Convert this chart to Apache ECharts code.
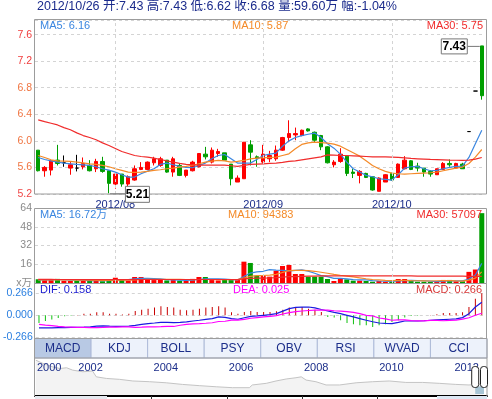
<!DOCTYPE html>
<html>
<head>
<meta charset="utf-8">
<title>K线图</title>
<script src="https://cdn.jsdelivr.net/npm/echarts@6/dist/echarts.min.js"></script>
<style>
html, body { margin: 0; padding: 0; background: #fff; }
#container { width: 492px; height: 399px; }
</style>
</head>
<body>
<div id="container"></div>
<script>
// 日期 (2012/07/16 - 2012/10/26)
var dates = [
 '2012/07/16','2012/07/17','2012/07/18','2012/07/19','2012/07/20','2012/07/23','2012/07/24','2012/07/25','2012/07/26','2012/07/27',
 '2012/07/30','2012/07/31','2012/08/01','2012/08/02','2012/08/03','2012/08/06','2012/08/07','2012/08/08','2012/08/09','2012/08/10',
 '2012/08/13','2012/08/14','2012/08/15','2012/08/16','2012/08/17','2012/08/20','2012/08/21','2012/08/22','2012/08/23','2012/08/24',
 '2012/08/27','2012/08/28','2012/08/29','2012/08/30','2012/08/31','2012/09/03','2012/09/04','2012/09/05','2012/09/06','2012/09/07',
 '2012/09/10','2012/09/11','2012/09/12','2012/09/13','2012/09/14','2012/09/17','2012/09/18','2012/09/19','2012/09/20','2012/09/21',
 '2012/09/24','2012/09/25','2012/09/26','2012/09/27','2012/09/28','2012/10/08','2012/10/09','2012/10/10','2012/10/11','2012/10/12',
 '2012/10/15','2012/10/16','2012/10/17','2012/10/18','2012/10/19','2012/10/22','2012/10/23','2012/10/24','2012/10/25','2012/10/26'
];

var opens = [
 5.86,5.55,5.56,5.71,5.67,5.59,5.59,5.61,5.63,5.58,
 5.69,5.55,5.35,5.50,5.35,5.41,5.57,5.57,5.67,5.63,
 5.71,5.53,5.63,5.48,5.55,5.61,5.80,5.68,5.81,5.82,
 5.65,5.38,5.43,5.94,5.76,5.68,5.73,5.73,5.86,6.05,
 6.09,6.08,6.18,6.13,6.08,5.91,5.64,5.69,5.77,5.53,
 5.48,5.51,5.46,5.24,5.38,5.51,5.45,5.58,5.70,5.62,
 5.59,5.54,5.49,5.57,5.66,5.59,5.65,6.14,6.75,7.43
];
var closes = [
 5.55,5.60,5.70,5.66,5.67,5.64,5.59,5.66,5.55,5.69,
 5.54,5.36,5.50,5.35,5.46,5.58,5.60,5.68,5.73,5.73,
 5.53,5.73,5.48,5.56,5.68,5.81,5.76,5.86,5.84,5.71,
 5.43,5.44,5.98,5.83,5.74,5.80,5.78,5.86,6.05,6.11,
 6.11,6.16,6.15,6.01,5.91,5.67,5.68,5.80,5.51,5.51,
 5.54,5.45,5.26,5.44,5.49,5.41,5.65,5.71,5.57,5.59,
 5.53,5.50,5.58,5.66,5.64,5.66,5.58,6.14,6.75,6.68
];
var lows = [
 5.54,5.46,5.48,5.63,5.61,5.49,5.54,5.57,5.54,5.53,
 5.52,5.21,5.28,5.31,5.31,5.40,5.56,5.56,5.63,5.61,
 5.52,5.46,5.47,5.45,5.54,5.60,5.72,5.66,5.76,5.71,
 5.33,5.38,5.43,5.63,5.61,5.66,5.68,5.70,5.85,5.98,
 6.01,6.07,6.14,5.98,5.86,5.66,5.60,5.67,5.47,5.44,
 5.36,5.44,5.25,5.24,5.38,5.40,5.45,5.57,5.56,5.54,
 5.46,5.46,5.49,5.56,5.61,5.58,5.58,6.14,6.75,6.62
];
var highs = [
 5.86,5.62,5.71,5.94,5.78,5.68,5.79,5.75,5.71,5.73,
 5.76,5.55,5.50,5.50,5.48,5.63,5.68,5.69,5.76,5.76,
 5.71,5.76,5.66,5.56,5.70,5.81,5.91,5.90,5.88,5.82,
 5.65,5.48,5.98,6.01,5.78,5.94,5.85,5.93,6.06,6.31,
 6.20,6.17,6.19,6.14,6.09,5.92,5.71,5.89,5.78,5.58,
 5.56,5.52,5.47,5.45,5.50,5.52,5.66,5.77,5.71,5.67,
 5.59,5.56,5.58,5.68,5.72,5.67,5.67,6.14,6.75,7.43
];

var ma5 = [
 5.75,5.72,5.70,5.68,5.665,5.655,5.645,5.64,5.63,5.61,
 5.58,5.56,5.53,5.49,5.455,5.455,5.505,5.545,5.58,5.645,
 5.665,5.64,5.615,5.60,5.595,5.63,5.665,5.73,5.78,5.795,
 5.73,5.665,5.665,5.665,5.72,5.78,5.80,5.815,5.92,6.0,
 6.05,6.08,6.10,6.117,6.05,5.956,5.89,5.80,5.68,5.58,
 5.53,5.48,5.46,5.43,5.42,5.41,5.49,5.59,5.61,5.615,
 5.58,5.55,5.555,5.58,5.60,5.615,5.62,5.75,5.956,6.16
];
var ma10 = [
 5.78,5.75,5.715,5.70,5.695,5.69,5.68,5.67,5.655,5.645,
 5.63,5.61,5.58,5.555,5.53,5.525,5.53,5.54,5.555,5.565,
 5.58,5.59,5.605,5.615,5.63,5.655,5.68,5.695,5.705,5.70,
 5.68,5.69,5.705,5.73,5.74,5.745,5.75,5.755,5.78,5.805,
 5.88,5.946,5.97,5.98,5.975,5.966,5.95,5.92,5.87,5.82,
 5.77,5.70,5.63,5.58,5.54,5.515,5.505,5.50,5.505,5.51,
 5.515,5.52,5.53,5.55,5.57,5.59,5.605,5.66,5.755,5.87
];
var ma30 = [
 6.317,6.29,6.265,6.24,6.20,6.167,6.12,6.08,6.05,6.016,
 5.97,5.93,5.885,5.84,5.81,5.78,5.765,5.755,5.74,5.72,
 5.70,5.68,5.66,5.645,5.64,5.635,5.635,5.635,5.635,5.635,
 5.625,5.615,5.63,5.645,5.65,5.655,5.66,5.665,5.675,5.69,
 5.70,5.715,5.73,5.745,5.76,5.79,5.785,5.78,5.78,5.775,
 5.77,5.765,5.76,5.76,5.758,5.755,5.75,5.745,5.735,5.73,
 5.725,5.72,5.718,5.715,5.71,5.708,5.705,5.71,5.725,5.75
];

// 成交量 (万)
var vols = [
 3.2,2.5,2.8,3.5,2.0,1.8,2.2,2.0,1.8,2.0,
 1.5,3.4,4.5,2.8,2.0,5.1,5.1,3.0,2.5,2.8,
 2.2,2.5,2.0,1.8,3.5,5.1,5.1,2.5,2.2,2.8,
 3.0,2.5,18.2,17.1,6.3,6.0,5.4,10.5,14.5,15.4,
 7.7,7.7,5.4,5.4,5.4,3.4,1.7,4.0,3.1,2.0,
 2.0,1.7,1.1,1.7,1.1,1.1,3.4,3.4,1.7,1.1,
 1.1,1.1,1.1,2.6,2.6,1.5,1.5,9.5,11.5,59.6
];
var volMa5 = [
 2.6,2.6,2.7,2.8,2.8,2.5,2.4,2.3,2.0,2.0,
 1.9,2.1,2.6,2.8,2.8,3.5,3.9,3.9,3.7,3.5,
 2.9,2.6,2.4,2.3,2.4,3.0,3.5,3.6,3.6,3.3,
 2.8,2.6,5.5,8.5,9.5,10.0,11.4,11.0,10.7,10.3,
 10.8,11.2,10.1,8.3,6.3,5.4,4.0,3.9,3.5,2.8,
 2.6,2.6,2.0,1.7,1.5,1.4,1.7,2.1,2.2,2.1,
 1.9,1.6,1.2,1.5,1.7,1.8,1.8,3.4,6.8,16.72
];
var volMa10 = [
 2.6,2.6,2.6,2.6,2.6,2.6,2.5,2.5,2.4,2.3,
 2.2,2.3,2.4,2.4,2.4,2.7,3.0,3.1,3.2,3.2,
 3.2,3.2,3.1,3.0,2.9,3.0,3.0,3.0,2.9,2.9,
 2.9,2.9,4.3,5.7,6.3,6.4,6.8,7.3,9.0,10.5,
 10.8,10.8,10.5,10.0,9.2,8.3,7.4,6.6,5.9,5.2,
 4.4,3.6,3.0,2.7,2.3,2.0,2.2,2.3,2.0,1.9,
 1.8,1.7,1.9,2.0,2.1,1.8,1.6,2.5,4.2,9.44
];
var volMa30 = [
 3.1,3.1,3.1,3.0,3.0,3.0,3.0,2.9,2.9,2.9,
 2.9,2.9,2.9,2.9,2.9,2.9,3.0,3.0,3.0,3.0,
 3.0,3.0,3.0,3.0,3.0,3.0,3.0,3.0,3.0,3.0,
 3.0,3.0,3.5,4.0,4.1,4.2,4.3,4.6,5.0,5.4,
 5.5,5.7,5.8,5.9,6.0,6.0,6.0,6.0,6.1,6.1,
 6.1,6.1,6.0,6.0,6.0,6.0,6.0,6.0,6.0,5.9,
 5.9,5.9,5.9,5.9,5.8,5.8,5.8,5.6,5.6,5.71
];

// MACD
var macdHist = [
 -0.093,-0.068,-0.052,-0.032,-0.012,-0.004,0.004,0.02,0.02,0.036,
 0.036,0.02,0.02,0.01,0.02,0.052,0.068,0.08,0.093,0.109,
 0.10,0.093,0.068,0.06,0.068,0.08,0.093,0.10,0.109,0.093,
 0.036,0.02,0.04,0.052,0.04,0.04,0.04,0.048,0.068,0.093,
 0.10,0.10,0.08,0.068,0.04,-0.02,-0.028,-0.06,-0.093,-0.109,
 -0.121,-0.121,-0.141,-0.121,-0.109,-0.081,-0.06,-0.028,-0.008,-0.004,
 0.002,0.004,0.012,0.028,0.028,0.028,0.036,0.10,0.20,0.266
];
var dif = [
 -0.153,-0.153,-0.153,-0.150,-0.148,-0.146,-0.145,-0.143,-0.14,-0.13,
 -0.128,-0.132,-0.133,-0.133,-0.13,-0.121,-0.11,-0.10,-0.093,-0.085,
 -0.085,-0.089,-0.085,-0.08,-0.069,-0.06,-0.05,-0.04,-0.02,-0.025,
 -0.04,-0.048,-0.03,-0.012,-0.008,0.0,0.008,0.02,0.05,0.08,
 0.095,0.10,0.10,0.089,0.07,0.052,0.035,0.02,0.0,-0.02,
 -0.04,-0.06,-0.078,-0.093,-0.098,-0.10,-0.085,-0.069,-0.069,-0.069,
 -0.066,-0.06,-0.056,-0.052,-0.048,-0.044,-0.028,0.02,0.10,0.158
];
var dea = [
 -0.11,-0.118,-0.125,-0.133,-0.14,-0.143,-0.146,-0.146,-0.148,-0.148,
 -0.146,-0.143,-0.143,-0.14,-0.14,-0.145,-0.143,-0.14,-0.14,-0.138,
 -0.135,-0.135,-0.12,-0.11,-0.103,-0.10,-0.096,-0.09,-0.075,-0.072,
 -0.058,-0.058,-0.05,-0.036,-0.028,-0.02,-0.012,-0.004,0.016,0.033,
 0.045,0.052,0.058,0.062,0.063,0.062,0.055,0.05,0.045,0.035,
 0.02,0.0,-0.008,-0.033,-0.043,-0.06,-0.055,-0.055,-0.065,-0.067,
 -0.067,-0.062,-0.062,-0.066,-0.062,-0.058,-0.046,-0.03,0.0,0.025
];

// 下方缩略图 (年份, 价格)
var navYears = [2000.92,2001.11,2001.37,2001.56,2001.74,2001.90,2002.17,2002.43,2002.53,2002.80,
 2003.15,2003.50,2003.95,2004.39,2004.82,2005.28,2005.72,2006.15,2006.60,2006.68,
 2007.05,2007.31,2007.58,2007.84,2007.98,2008.11,2008.37,2008.64,2009.00,2009.44,
 2009.88,2010.32,2010.76,2011.21,2011.65,2012.09,2012.44,2012.82];
var navPrices = [19.8,18.0,16.1,15.2,15.6,14.3,13.4,13.8,10.6,9.7,
 9.2,8.3,7.9,7.3,6.4,5.7,5.1,4.6,4.6,6.1,
 7.0,8.3,9.4,10.1,10.6,8.8,7.9,6.1,6.1,7.3,
 7.9,8.3,7.5,7.5,7.0,6.4,6.1,6.7];
var navTickYears = [2002, 2004, 2006, 2008, 2010, 2012];
var navLabelYears = [2000.9, 2002, 2004, 2006, 2008, 2010, 2012];
var navRange = [2012.54, 2012.82];

var tabs = ['MACD', 'KDJ', 'BOLL', 'PSY', 'OBV', 'RSI', 'WVAD', 'CCI'];

var titleText = '2012/10/26 开:7.43 高:7.43 低:6.62 收:6.68 量:59.60万 幅:-1.04%';

var upColor = '#ff0000', downColor = '#009e00', flatColor = '#000000';
var c5 = '#3a86e0', c10 = '#f48a28', c30 = '#f02c2c';
var FONT = 'Arial, "Liberation Sans", "Noto Sans CJK SC", sans-serif';

var monthStarts = [];
dates.forEach(function (d, i) {
    if (i > 0 && d.slice(0, 7) !== dates[i - 1].slice(0, 7)) monthStarts.push(i);
});

var kItems = opens.map(function (o, i) {
    var d = [o, closes[i], lows[i], highs[i]];
    if (o === closes[i]) {
        return { value: d, itemStyle: { color: flatColor, color0: flatColor, borderColor: flatColor, borderColor0: flatColor } };
    }
    return d;
});

var volItems = vols.map(function (v, i) {
    var up = closes[i] > opens[i] || (closes[i] === opens[i] && (i === 0 || closes[i] >= closes[i - 1]));
    return { value: v, itemStyle: { color: up ? upColor : downColor } };
});

var macdItems = macdHist.map(function (v) {
    return { value: v, itemStyle: { color: v >= 0 ? '#c80000' : '#10c010' } };
});

var dash = { color: '#d4d4d4', type: [3, 3], width: 1 };
var vLines = {
    silent: true, symbol: ['none', 'none'], label: { show: false },
    lineStyle: dash, animation: false,
    data: monthStarts.map(function (i) { return { xAxis: dates[i] }; })
};

function lineSeries(name, data, color, xi) {
    return {
        name: name, type: 'line', data: data, xAxisIndex: xi, yAxisIndex: xi,
        symbol: 'none', smooth: false, silent: true,
        lineStyle: { color: color, width: 1.2 }
    };
}

var dom = document.getElementById('container');
var myChart = echarts.init(dom);

var option = {
    animation: false,
    backgroundColor: '#fff',
    textStyle: { fontFamily: FONT },
    grid: [
        { left: 35, width: 450, top: 20, height: 174 },
        { left: 35, width: 450, top: 208, height: 75 },
        { left: 35, width: 450, top: 293.3, height: 44 },
        { left: 35, width: 452, top: 358, height: 38 }
    ],
    xAxis: [
        {
            type: 'category', gridIndex: 0, data: dates, boundaryGap: true,
            axisLine: { show: false }, axisTick: { show: false }, splitLine: { show: false },
            axisLabel: {
                interval: function (i) { return monthStarts.indexOf(i) >= 0; },
                formatter: function (v) { return v.slice(0, 7); },
                color: '#1c2e8a', fontSize: 11, margin: 5, fontFamily: FONT
            }
        },
        {
            type: 'category', gridIndex: 1, data: dates, boundaryGap: true,
            axisLine: { show: false }, axisTick: { show: false }, axisLabel: { show: false }, splitLine: { show: false }
        },
        {
            type: 'category', gridIndex: 2, data: dates, boundaryGap: true,
            axisLine: { show: false }, axisTick: { show: false }, axisLabel: { show: false }, splitLine: { show: false }
        },
        {
            type: 'value', gridIndex: 3, min: 2000.9, max: 2012.92, position: 'top', z: 10,
            axisLine: { show: true, lineStyle: { color: '#000', width: 2 } },
            axisTick: { show: true, inside: true, length: 4, customValues: navTickYears, lineStyle: { color: '#333' } },
            axisLabel: {
                inside: true, customValues: navLabelYears, align: 'left', margin: 4,
                formatter: function (v) { return String(Math.floor(v)); },
                color: '#1c2e8a', fontSize: 11, fontFamily: FONT, padding: [0, 0, 0, 2]
            },
            splitLine: { show: false }
        }
    ],
    yAxis: [
        {
            type: 'value', gridIndex: 0, min: 5.2, max: 7.82, interval: 0.4,
            axisLine: { show: false }, axisTick: { show: false },
            splitLine: { show: true, lineStyle: dash },
            axisLabel: {
                margin: 3, fontSize: 10.5, fontFamily: FONT, showMaxLabel: false,
                formatter: function (v) { return v > 7.7 ? '' : v.toFixed(1); },
                color: function (v) {
                    v = parseFloat(v);
                    return v >= 7 ? '#f03c3c' : (v <= 5.3 ? '#f04848' : '#f07440');
                }
            }
        },
        {
            type: 'value', gridIndex: 1, min: 0, max: 64, interval: 16,
            axisLine: { show: false }, axisTick: { show: false },
            splitLine: { show: true, lineStyle: dash },
            axisLabel: {
                margin: 3, fontSize: 10.5, color: '#8a8a8a', fontFamily: FONT,
                formatter: function (v) { return v === 0 ? 'x万' : String(v); }
            }
        },
        {
            type: 'value', gridIndex: 2, min: -0.266, max: 0.266, interval: 0.266,
            axisLine: { show: false }, axisTick: { show: false },
            splitLine: { show: true, lineStyle: dash },
            axisLabel: {
                margin: 3, fontSize: 10.5, color: '#2a7fe0', fontFamily: FONT,
                formatter: function (v) { return v.toFixed(3); }
            }
        },
        { type: 'value', gridIndex: 3, min: 0, max: 21, show: false }
    ],
    series: [
        {
            name: 'K', type: 'candlestick', data: kItems, xAxisIndex: 0, yAxisIndex: 0,
            barWidth: 4, silent: true,
            itemStyle: { color: upColor, color0: downColor, borderColor: upColor, borderColor0: downColor, borderWidth: 1 },
            markLine: vLines
        },
        lineSeries('MA5', ma5, c5, 0),
        lineSeries('MA10', ma10, c10, 0),
        lineSeries('MA30', ma30, c30, 0),
        {
            name: 'VOL', type: 'bar', data: volItems, xAxisIndex: 1, yAxisIndex: 1,
            barWidth: 5, silent: true, markLine: vLines
        },
        lineSeries('VMA5', volMa5, c5, 1),
        lineSeries('VMA10', volMa10, c10, 1),
        lineSeries('VMA30', volMa30, c30, 1),
        {
            name: 'MACD', type: 'bar', data: macdItems, xAxisIndex: 2, yAxisIndex: 2,
            barWidth: 1, silent: true
        },
        {
            name: 'DIF', type: 'line', data: dif, xAxisIndex: 2, yAxisIndex: 2,
            symbol: 'none', silent: true, lineStyle: { color: '#1a1ae0', width: 1.2 }
        },
        {
            name: 'DEA', type: 'line', data: dea, xAxisIndex: 2, yAxisIndex: 2,
            symbol: 'none', silent: true, lineStyle: { color: '#ff00ff', width: 1.2 }
        },
        {
            name: 'nav', type: 'line', xAxisIndex: 3, yAxisIndex: 3, z: 1,
            data: navYears.map(function (y, i) { return [y, navPrices[i]]; }),
            symbol: 'none', silent: true,
            lineStyle: { color: '#c4c4c4', width: 1 },
            areaStyle: { color: '#f3f3f3', opacity: 1 }
        }
    ]
};

myChart.setOption(option, true);

// 边框, 文字, 标注
function txt(x, y, s, color, size, align, bold) {
    return {
        type: 'text', silent: true, z: 100,
        style: {
            x: x, y: y, text: s, fill: color,
            font: (bold ? 'bold ' : '') + size + 'px ' + FONT,
            textAlign: align || 'left', align: align || 'left',
            textVerticalAlign: 'middle', verticalAlign: 'middle'
        }
    };
}
function box(x, y, w, h, fill, stroke, z) {
    return {
        type: 'rect', silent: true, z: z || 90,
        shape: { x: x, y: y, width: w, height: h },
        style: { fill: fill || 'none', stroke: stroke || 'none', lineWidth: 1 }
    };
}
function seg(x1, y1, x2, y2, color, w) {
    return {
        type: 'line', silent: true, z: 95,
        shape: { x1: x1, y1: y1, x2: x2, y2: y2 },
        style: { stroke: color, lineWidth: w || 1 }
    };
}

var g = [];
var frame = '#9c9c9c';
g.push(box(34.5, 19.5, 452, 174.5, null, frame));
g.push(box(34.5, 208.5, 452, 75, null, frame));
g.push(box(34.5, 283.5, 452, 55, null, frame));

g.push(txt(37, 7, titleText, '#1b2b8c', 12.5));
g.push(txt(40, 26, 'MA5: 6.16', c5, 11));
g.push(txt(232, 26, 'MA10: 5.87', c10, 11));
g.push(txt(483, 26, 'MA30: 5.75', c30, 11, 'right'));
g.push(txt(40, 215, 'MA5: 16.72万', c5, 11));
g.push(txt(228, 215, 'MA10: 94383', c10, 11));
g.push(txt(482, 215, 'MA30: 57097', c30, 11, 'right'));
g.push(txt(40, 290, 'DIF: 0.158', '#1a1ad0', 11));
g.push(txt(233, 290, 'DEA: 0.025', '#ff00ff', 11));
g.push(txt(482, 290, 'MACD: 0.266', '#d83838', 11, 'right'));

// 最高/最低价标注
var iMax = highs.indexOf(Math.max.apply(null, highs));
var iMin = lows.indexOf(Math.min.apply(null, lows));
var pMax = myChart.convertToPixel({ gridIndex: 0 }, [dates[iMax], highs[iMax]]);
var pMin = myChart.convertToPixel({ gridIndex: 0 }, [dates[iMin], lows[iMin]]);
g.push(seg(pMax[0] - 14, pMax[1] + 0.5, pMax[0] - 2, pMax[1] + 0.5, '#777'));
g.push(box(pMax[0] - 40.5, pMax[1] - 7, 26, 15, '#fff', '#777'));
g.push(txt(pMax[0] - 27.5, pMax[1] + 0.5, highs[iMax].toFixed(2), '#000', 12, 'center', true));
g.push(seg(pMin[0] + 1, pMin[1] + 0.5, pMin[0] + 16, pMin[1] + 0.5, '#777'));
g.push(box(pMin[0] + 16.5, pMin[1] - 7, 24, 16, '#fff', '#777'));
g.push(txt(pMin[0] + 28.5, pMin[1] + 1, lows[iMin].toFixed(2), '#000', 12, 'center', true));

// 指标选项卡
var tabW = 452.5 / tabs.length;
tabs.forEach(function (t, i) {
    var x = 34.5 + i * tabW;
    g.push(box(x, 338.5, tabW, 19.5, i === 0 ? '#b8c9e4' : '#edf2fb', '#aebbd8', 80));
    g.push(txt(x + tabW / 2, 348.5, t, '#1c2e8a', 12, 'center'));
});
g.push(box(34.5, 338.5, 452.5, 19.5, null, frame));

// 缩略图边框与滑块
g.push(seg(34.5, 358, 34.5, 396, frame));
g.push(seg(487, 358, 487, 396, frame));
var h1 = myChart.convertToPixel({ gridIndex: 3 }, [navRange[0], 0]);
var h2 = myChart.convertToPixel({ gridIndex: 3 }, [navRange[1], 0]);
var hx1 = h1[0] + 2.5, hx2 = Math.min(h2[0] + 1.5, 484);
g.push(box(hx1, 386.5, hx2 - hx1, 7.5, '#a8c6d6', null, 96));
[hx1, hx2].forEach(function (cx) {
    g.push({
        type: 'rect', silent: true, z: 97,
        shape: { x: cx - 3.5, y: 366.5, width: 7, height: 21, r: 3 },
        style: { fill: '#fff', stroke: '#222', lineWidth: 1 }
    });
    g.push(seg(cx - 1.5, 373, cx - 1.5, 380, '#444'));
    g.push(seg(cx + 1.5, 373, cx + 1.5, 380, '#444'));
});
g.push(box(35, 396, 72, 3, '#e4e8ee', null, 80));
g.push(box(437, 396, 50, 3, '#dce7f3', null, 80));

myChart.setOption({ graphic: g });

window.onresize = function () {
    myChart.resize();
};
</script>
</body>
</html>
